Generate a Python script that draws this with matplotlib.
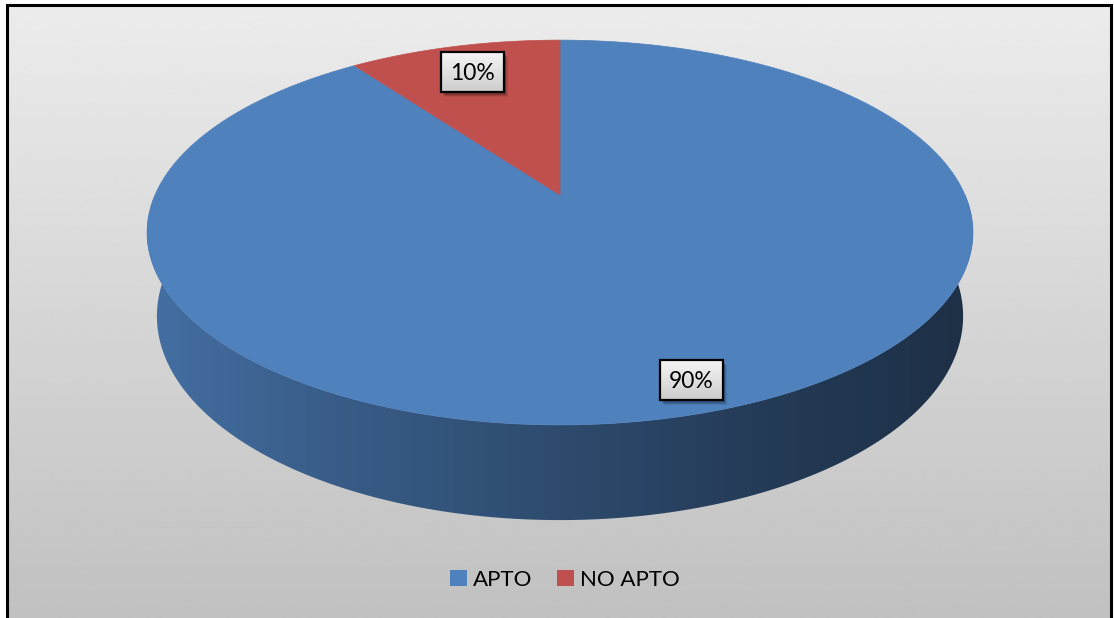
import numpy as np
import matplotlib.pyplot as plt
from matplotlib.patches import Polygon, Rectangle, Patch

categories = ['APTO', 'NO APTO']
values = [90, 10]
slice_colors = ['#4f81bd', '#c0504d']
pct_labels = ['90%', '10%']

plt.rcParams['font.family'] = ['Lato', 'DejaVu Sans']

W, H = 1114, 618
fig = plt.figure(figsize=(W / 100, H / 100), dpi=100)
ax = fig.add_axes([0, 0, 1, 1])
ax.axis('off')

# chart area: grey vertical gradient inside a black frame
bg = np.linspace(0.925, 0.755, 256)[:, None]
ax.imshow(bg, cmap='gray', vmin=0, vmax=1, extent=(7, 1111, H, 5),
          aspect='auto', zorder=0, interpolation='bilinear')
ax.plot([7, 7, 1111, 1111], [H + 5, 5, 5, H + 5], color='black', lw=2.2, zorder=1,
        solid_joinstyle='miter')

# perspective camera for the tilted disc
cx, cy = 560, 195
f = 1846.8
D, ca, sa = 4.56, 0.889, 0.457
depth = 0.234


def project(X, Z, Y=0.0):
    w = D + Z * ca - Y * sa
    u = Y * ca + Z * sa
    return cx + f * X / w, cy - f * u / w


fracs = np.array(values, dtype=float) / sum(values)
edges = 90 - 360 * np.concatenate([[0], np.cumsum(fracs)])

# side wall, darker to the right
shade_x = [150, 300, 560, 760, 970]
shade_k = [0.86, 0.74, 0.58, 0.46, 0.37]
xs = np.linspace(140, 980, 400)
k = np.interp(xs, shade_x, shade_k)
for i, col in enumerate(slice_colors):
    a0, a1 = sorted([edges[i], edges[i + 1]])
    # keep only the part of the slice that faces the viewer (180..360 deg)
    for off in (-720, -360, 0, 360):
        lo, hi = max(a0 + off, 180), min(a1 + off, 360)
        if hi <= lo:
            continue
        t = np.radians(np.linspace(lo, hi, 200))
        tx, ty = project(np.cos(t), np.sin(t))
        bx, by = project(np.cos(t), np.sin(t), -depth)
        poly = Polygon(np.column_stack([np.r_[tx, bx[::-1]], np.r_[ty, by[::-1]]]),
                       closed=True, facecolor='none', edgecolor='none')
        ax.add_patch(poly)
        rgb = np.array(plt.matplotlib.colors.to_rgb(col))
        img = np.ones((1, len(xs), 4))
        img[0, :, :3] = rgb[None, :] * k[:, None]
        im = ax.imshow(img, extent=(xs[0], xs[-1], 540, 150), aspect='auto',
                       zorder=2, interpolation='bilinear')
        im.set_clip_path(poly)

# top faces of the slices
for i, col in enumerate(slice_colors):
    t = np.radians(np.linspace(edges[i], edges[i + 1], 300))
    tx, ty = project(np.cos(t), np.sin(t))
    pts = np.column_stack([np.r_[cx, tx], np.r_[cy, ty]])
    ax.add_patch(Polygon(pts, closed=True, facecolor=col, edgecolor=col,
                         lw=0.5, zorder=3))

# percentage labels in grey boxes
label_r = [0.88, 0.80]
bw, bh = 63, 40
for i, txt in enumerate(pct_labels):
    mid = np.radians((edges[i] + edges[i + 1]) / 2)
    lx, ly = project(label_r[i] * np.cos(mid), label_r[i] * np.sin(mid))
    x0, y0 = lx - bw / 2, ly - bh / 2
    for s, a in [(5, 0.08), (4, 0.12), (3, 0.18)]:
        ax.add_patch(Rectangle((x0 + s - 1, y0 + s), bw, bh, facecolor='black',
                               edgecolor='none', alpha=a, zorder=4))
    grad = np.linspace(0.96, 0.80, 64)[:, None]
    ax.imshow(grad, cmap='gray', vmin=0, vmax=1, extent=(x0, x0 + bw, y0 + bh, y0),
              aspect='auto', zorder=5, interpolation='bilinear')
    ax.add_patch(Rectangle((x0, y0), bw, bh, facecolor='none', edgecolor='black',
                           lw=1.6, zorder=6))
    ax.text(lx, ly + 1, txt, ha='center', va='center', fontsize=16.5,
            color='black', zorder=7)

handles = [Patch(facecolor=c, edgecolor='none') for c in slice_colors]
ax.legend(handles, categories, ncol=2, loc='center', bbox_to_anchor=(565 / W, 1 - 580 / H),
          frameon=False, fontsize=16, handlelength=0.75, handleheight=0.75,
          handletextpad=0.3, columnspacing=1.1)

ax.set_xlim(0, W)
ax.set_ylim(H, 0)
fig.savefig('out.png', dpi=100, facecolor='white')
